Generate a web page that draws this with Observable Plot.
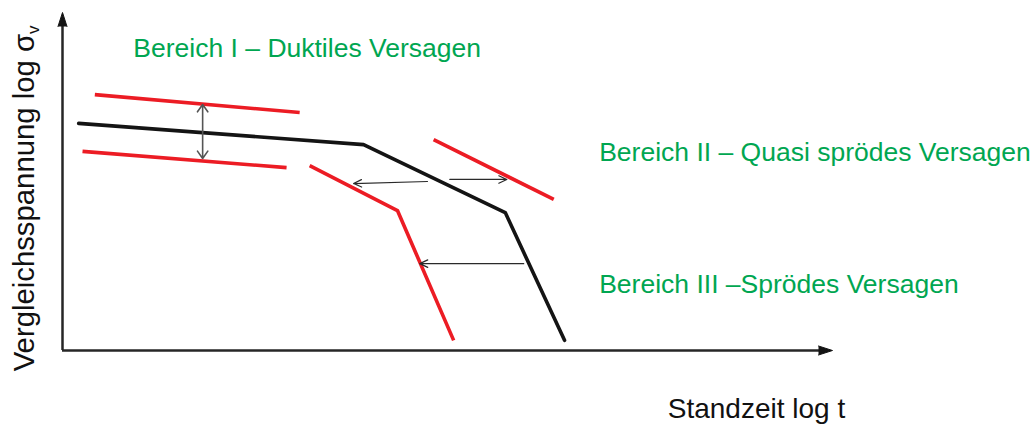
<!DOCTYPE html>
<html>
<head>
<meta charset="utf-8">
<script src="https://cdn.jsdelivr.net/npm/d3@7"></script>
<script src="https://cdn.jsdelivr.net/npm/@observablehq/plot@0.6"></script>
<style>
  html, body { margin: 0; padding: 0; background: #fff; }
</style>
</head>
<body>
<div id="chart"></div>
<script>
// Schematic creep-rupture diagram: x = log t, y = log σv (arbitrary units 0–100)
const blackCurve    = [[2.1, 67.2], [39.1, 60.9], [57.5, 40.8], [65.2, 3.0]];
const redUpperLeft  = [[4.2, 75.7], [30.8, 70.4]];
const redLowerLeft  = [[2.6, 58.9], [29.1, 54.1]];
const redUpperRight = [[48.2, 62.4], [63.8, 44.7]];
const redShifted    = [[32.1, 54.7], [43.5, 41.4], [50.8, 3.0]];

// shift arrows: [x1, y1, x2, y2]
const shiftArrows = [[47.4, 50.0, 37.8, 49.4], [50.3, 50.6, 57.7, 50.6], [59.9, 25.7, 46.4, 25.7]];
// scatter-band double arrow: centre and both ends
const scatterX = 18.2, scatterMid = 64.8, scatterEnds = [72.8, 56.8];

const regionLabels  = ["Bereich I – Duktiles Versagen", "Bereich II – Quasi sprödes Versagen", "Bereich III –Sprödes Versagen"];
const regionAnchors = [[9.2, 86.7], [69.7, 56.2], [69.7, 16.9]];
const xLabel = "Standzeit log t";
const xLabelAt = [78.6, -20.1];
const yLabel = "Vergleichsspannung log σ";
const ySub = "v";
const yLabelAt = [-3.75, 45.0];

const RED = "#ec1c24", BLACK = "#141414", GREEN = "#00a651", AXIS = "#262626";
const FONT = "'Liberation Sans', Arial, Helvetica, sans-serif";

const reds = [redUpperLeft, redLowerLeft, redUpperRight, redShifted]
  .flatMap((c, k) => c.map(([x, y]) => ({x, y, k})));
const black = blackCurve.map(([x, y]) => ({x, y}));

const chart = Plot.plot({
  width: 1036,
  height: 427,
  marginLeft: 62,
  marginRight: 204,
  marginTop: 12,
  marginBottom: 77,
  x: {domain: [0, 100], axis: null},
  y: {domain: [0, 100], axis: null},
  style: {background: "white", fontFamily: FONT},
  marks: [
    // axes with arrowheads
    Plot.ruleX([0], {y1: 0, y2: 97, stroke: AXIS, strokeWidth: 2.5}),
    Plot.ruleY([0], {x1: 0, x2: 99, stroke: AXIS, strokeWidth: 2.5}),
    Plot.vector([{x: 0, y: 100}], {x: "x", y: "y", length: 14, r: 4.5, shape: "spike", anchor: "end", rotate: 0, fill: BLACK, stroke: BLACK, strokeWidth: 1}),
    Plot.vector([{x: 100, y: 0}], {x: "x", y: "y", length: 14, r: 4.5, shape: "spike", anchor: "end", rotate: 90, fill: BLACK, stroke: BLACK, strokeWidth: 1}),
    // curves
    Plot.line(reds, {x: "x", y: "y", z: "k", stroke: RED, strokeWidth: 3.6, strokeLinecap: "butt"}),
    Plot.line(black, {x: "x", y: "y", stroke: BLACK, strokeWidth: 3.6}),
    // arrows
    Plot.arrow(shiftArrows, {x1: d => d[0], y1: d => d[1], x2: d => d[2], y2: d => d[3], stroke: "#2a2a2a", strokeWidth: 1.2, headLength: 11, headAngle: 50}),
    Plot.arrow(scatterEnds, {x1: () => scatterX, y1: () => scatterMid, x2: () => scatterX, y2: d => d, stroke: "#555", strokeWidth: 1.6, headLength: 9, headAngle: 70}),
    // labels
    Plot.text(regionLabels, {x: (d, i) => regionAnchors[i][0], y: (d, i) => regionAnchors[i][1], text: d => d, textAnchor: "start", lineAnchor: "bottom", fontSize: 26.5, fontFamily: FONT, fill: GREEN}),
    Plot.text([xLabel], {x: () => xLabelAt[0], y: () => xLabelAt[1], text: d => d, textAnchor: "start", lineAnchor: "bottom", fontSize: 28, fontFamily: FONT, fill: "#111"}),
    Plot.text([yLabel], {x: () => yLabelAt[0], y: () => yLabelAt[1], text: d => d, rotate: -90, textAnchor: "middle", lineAnchor: "bottom", fontSize: 29.3, fontFamily: FONT, fill: "#111"})
  ]
});

// subscript "v" on σ
d3.select(chart).selectAll("text")
  .filter(function() { return this.textContent === yLabel; })
  .append("tspan")
  .attr("font-size", 17)
  .attr("dy", 5)
  .text(ySub);

document.getElementById("chart").appendChild(chart);
</script>
</body>
</html>
